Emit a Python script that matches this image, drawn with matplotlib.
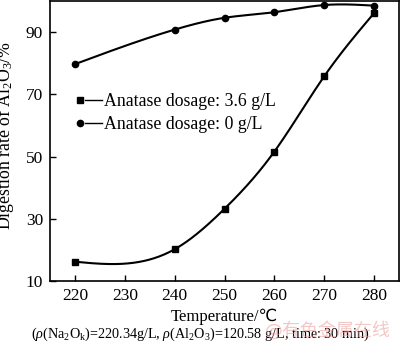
import numpy as np
import matplotlib
matplotlib.use("Agg")
import matplotlib.pyplot as plt
from matplotlib.legend_handler import HandlerLine2D
from matplotlib.lines import Line2D

plt.rcParams['font.family'] = ['Liberation Serif', 'DejaVu Sans', 'Noto Sans CJK SC']
plt.rcParams['mathtext.fontset'] = 'custom'
plt.rcParams['mathtext.rm'] = 'Liberation Serif'
plt.rcParams['mathtext.it'] = 'Liberation Serif:italic'

temps = [220, 240, 250, 260, 270, 280]
dosage_36 = [16.2, 20.2, 33.2, 51.6, 75.8, 96.1]
dosage_0 = [79.7, 90.8, 94.6, 96.4, 98.7, 98.5]
labels = ['Anatase dosage: 3.6 g/L', 'Anatase dosage: 0 g/L']
xticks = [220, 230, 240, 250, 260, 270, 280]
yticks = [10, 30, 50, 70, 90]


def natural_spline(x, y, n=300):
    x = np.asarray(x, float)
    y = np.asarray(y, float)
    k = len(x)
    h = np.diff(x)
    A = np.zeros((k, k))
    b = np.zeros(k)
    A[0, 0] = 1
    A[-1, -1] = 1
    for i in range(1, k - 1):
        A[i, i - 1] = h[i - 1]
        A[i, i] = 2 * (h[i - 1] + h[i])
        A[i, i + 1] = h[i]
        b[i] = 3 * ((y[i + 1] - y[i]) / h[i] - (y[i] - y[i - 1]) / h[i - 1])
    c = np.linalg.solve(A, b)
    xs = np.linspace(x[0], x[-1], n)
    ys = np.empty_like(xs)
    for j, xv in enumerate(xs):
        i = min(np.searchsorted(x, xv, side='right') - 1, k - 2)
        bi = (y[i + 1] - y[i]) / h[i] - h[i] * (2 * c[i] + c[i + 1]) / 3
        di = (c[i + 1] - c[i]) / (3 * h[i])
        dx = xv - x[i]
        ys[j] = y[i] + bi * dx + c[i] * dx ** 2 + di * dx ** 3
    return xs, ys


class MarkerFirstHandler(HandlerLine2D):
    def create_artists(self, legend, orig_handle, xdescent, ydescent,
                       width, height, fontsize, trans):
        yc = height / 2 - ydescent
        line = Line2D([width * 0.32 - xdescent, width - xdescent], [yc, yc],
                      color='black', lw=1.0)
        mk = Line2D([width * 0.12 - xdescent], [yc], marker=orig_handle.get_marker(),
                    markersize=orig_handle.get_markersize(), color='black', lw=0)
        line.set_transform(trans)
        mk.set_transform(trans)
        return [line, mk]


fig = plt.figure(figsize=(4.0, 3.49), dpi=100)
ax = fig.add_axes([50 / 400, 68 / 349, 349 / 400, 280 / 349])

xs, ys = natural_spline(temps, dosage_36)
ax.plot(xs, ys, color='black', lw=1.5)
h1, = ax.plot(temps, dosage_36, 's', color='black', markersize=4.5, label=labels[0])
xs, ys = natural_spline(temps, dosage_0)
ax.plot(xs, ys, color='black', lw=1.5)
h2, = ax.plot(temps, dosage_0, 'o', color='black', markersize=4.5, label=labels[1])

ax.set_xlim(215, 285)
ax.set_ylim(10, 100)
ax.set_xticks(xticks)
ax.set_yticks(yticks)
ax.tick_params(direction='in', length=4, width=1, labelsize=12.5, pad=5)
for s in ax.spines.values():
    s.set_linewidth(1.2)

ax.set_xlabel('Temperature/\u2103', fontsize=12, labelpad=3)
ax.set_ylabel('Digestion rate of Al$_2$O$_3$/%', fontsize=12.8)
ax.yaxis.set_label_coords(-0.097, 0.52)

ax.legend(handles=[h1, h2], loc='upper left', bbox_to_anchor=(0.077, 0.67),
          frameon=False, fontsize=12.8, handlelength=1.4, handletextpad=0.1,
          labelspacing=0.3, borderpad=0, borderaxespad=0,
          handler_map={Line2D: MarkerFirstHandler()})

fig.text(0.5, 1 - 334 / 349,
         r'($\it{\rho}$(Na$_2$O$_\mathrm{k}$)=220.34g/L, $\it{\rho}$(Al$_2$O$_3$)=120.58 g/L, time: 30 min)',
         fontsize=10.2, ha='center', va='center')
fig.text(0.82, 1 - 330 / 349, '@有色金属在线', fontsize=13, color='#eb9a9a', alpha=0.55,
         ha='center', va='center', family=['DejaVu Sans', 'Noto Sans CJK SC'])

fig.savefig('out.png', dpi=100)
